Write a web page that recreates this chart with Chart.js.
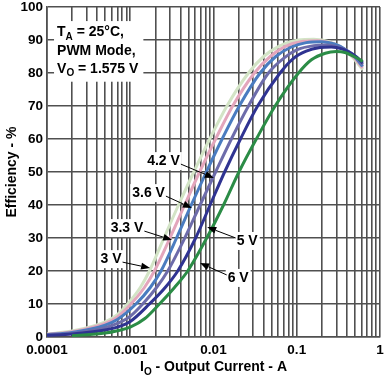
<!DOCTYPE html>
<html lang="en">
<head>
<meta charset="UTF-8">
<title>Efficiency vs Output Current</title>
<script src="https://cdn.jsdelivr.net/npm/chart.js"></script>
<style>
    body { margin: 0; background: #ffffff; }
    canvas { display: block; }
</style>
</head>
<body>
<canvas id="effChart" width="389" height="384"></canvas>
<script>
    // x tick labels (decades) and series
    const decades = [0.0001, 0.001, 0.01, 0.1, 1];
    const decadeLabels = ['0.0001', '0.001', '0.01', '0.1', '1'];
    const seriesNames = ['3 V', '3.3 V', '3.6 V', '4.2 V', '5 V', '6 V'];

    const cur3V = [0.0001, 0.0002, 0.0005, 0.0007, 0.00093, 0.00132, 0.0017, 0.00254, 0.0038, 0.0058, 0.009, 0.0145, 0.0263, 0.04, 0.06, 0.105, 0.16, 0.25, 0.35, 0.48, 0.62];
    const eff3V = [0.9, 1.8, 4.6, 6.8, 10, 15, 20, 30, 40, 50, 60, 70, 80, 85, 88, 90, 90.2, 89.4, 87.5, 84.5, 81];

    const cur33V = [0.0001, 0.0002, 0.0005, 0.0007, 0.00102, 0.00148, 0.00195, 0.003, 0.0045, 0.0068, 0.0106, 0.017, 0.031, 0.048, 0.072, 0.12, 0.18, 0.27, 0.37, 0.49, 0.62];
    const eff33V = [0.8, 1.6, 4.1, 6.1, 10, 15, 20, 30, 40, 50, 60, 70, 80, 85, 88, 89.6, 89.8, 89, 87.3, 84.6, 81.5];

    const cur36V = [0.0001, 0.0002, 0.0005, 0.0007, 0.00117, 0.00174, 0.00234, 0.0036, 0.0054, 0.0082, 0.0127, 0.0204, 0.0363, 0.056, 0.085, 0.13, 0.2, 0.29, 0.38, 0.5, 0.62];
    const eff36V = [0.7, 1.4, 3.6, 5.3, 10, 15, 20, 30, 40, 50, 60, 70, 80, 85, 87.8, 89.2, 89.5, 88.7, 87.2, 84.8, 82];

    const cur42V = [0.0001, 0.0002, 0.0005, 0.0007, 0.001, 0.00141, 0.00207, 0.00282, 0.00452, 0.0069, 0.0106, 0.0164, 0.0263, 0.0457, 0.07, 0.1, 0.16, 0.23, 0.32, 0.42, 0.52, 0.62];
    const eff42V = [0.6, 1.1, 2.8, 4.1, 6.3, 10, 15, 20, 30, 40, 50, 60, 70, 80, 84.5, 87, 88.3, 88.5, 87.8, 86.5, 84.8, 82.5];

    const cur5V = [0.0001, 0.0002, 0.0005, 0.0007, 0.001, 0.0017, 0.00263, 0.00372, 0.0061, 0.0091, 0.0136, 0.0211, 0.0339, 0.063, 0.09, 0.13, 0.19, 0.26, 0.35, 0.45, 0.54, 0.62];
    const eff5V = [0.5, 0.9, 2.1, 3.0, 4.7, 10, 15, 20, 30, 40, 50, 60, 70, 80, 84.3, 86.6, 87.7, 87.9, 87.3, 86, 84.6, 83];

    const cur6V = [0.0002, 0.0005, 0.0007, 0.001, 0.0015, 0.00224, 0.0034, 0.0049, 0.0083, 0.0132, 0.0202, 0.0327, 0.055, 0.105, 0.15, 0.22, 0.3, 0.38, 0.47, 0.55, 0.62];
    const eff6V = [0.4, 1.2, 1.9, 3.0, 5.6, 10, 15, 20, 30, 40, 50, 60, 70, 80, 84, 86, 86.5, 86.2, 85.2, 84.3, 83.5];

    const allCur = [cur3V, cur33V, cur36V, cur42V, cur5V, cur6V];
    const allEff = [eff3V, eff33V, eff36V, eff42V, eff5V, eff6V];
    const colors = ['#d3e4c6', '#e3a6bc', '#4a7cc0', '#6d6caa', '#2f3391', '#2b8c46'];

    // curve labels: label centre and arrow tip, in data units
    const callouts = [
        { text: '4.2 V', x: 0.00251, y: 53.3, tx: 0.0101, ty: 48.2 },
        { text: '3.6 V', x: 0.00166, y: 43.6, tx: 0.0055, ty: 39.1 },
        { text: '3.3 V', x: 0.000915, y: 33.0, tx: 0.00318, ty: 29.4 },
        { text: '3 V', x: 0.000588, y: 23.6, tx: 0.00173, ty: 20.9 },
        { text: '5 V', x: 0.0254, y: 29.1, tx: 0.0084, ty: 33.3 },
        { text: '6 V', x: 0.0198, y: 17.9, tx: 0.0069, ty: 22.4 }
    ];

    const FONT = 'bold 14px "Liberation Sans", Arial, sans-serif';
    const SUB = 'bold 10px "Liberation Sans", Arial, sans-serif';
    const GRID = '#505050';

    // text with optional subscript parts
    function richWidth(ctx, parts) {
        let w = 0;
        parts.forEach(p => { ctx.font = p.sub ? SUB : FONT; w += ctx.measureText(p.t).width; });
        return w;
    }
    function drawRich(ctx, parts, x, y) {
        ctx.textAlign = 'left';
        ctx.textBaseline = 'middle';
        parts.forEach(p => {
            ctx.font = p.sub ? SUB : FONT;
            ctx.fillText(p.t, x, p.sub ? y + 5 : y);
            x += ctx.measureText(p.t).width;
        });
    }

    function arrow(ctx, x0, y0, x1, y1) {
        const a = Math.atan2(y1 - y0, x1 - x0);
        const len = 9, half = 3.5;
        const bx = x1 - len * Math.cos(a), by = y1 - len * Math.sin(a);
        ctx.beginPath();
        ctx.moveTo(x0, y0);
        ctx.lineTo(bx, by);
        ctx.lineWidth = 1;
        ctx.strokeStyle = '#000';
        ctx.stroke();
        ctx.beginPath();
        ctx.moveTo(x1, y1);
        ctx.lineTo(bx + half * Math.sin(a), by - half * Math.cos(a));
        ctx.lineTo(bx - half * Math.sin(a), by + half * Math.cos(a));
        ctx.closePath();
        ctx.fillStyle = '#000';
        ctx.fill();
    }

    const overlay = {
        id: 'overlay',
        afterDraw(chart) {
            const ctx = chart.ctx;
            const xs = chart.scales.x, ys = chart.scales.y;
            ctx.save();

            // condition box
            const lines = [
                [{ t: 'T' }, { t: 'A', sub: true }, { t: ' = 25°C,' }],
                [{ t: 'PWM Mode,' }],
                [{ t: 'V' }, { t: 'O', sub: true }, { t: ' = 1.575 V' }]
            ];
            const bx = xs.getPixelForValue(0.000132);
            const lineY = [92.4, 86.5, 81.3].map(v => ys.getPixelForValue(v));
            let maxW = 0;
            lines.forEach(l => { maxW = Math.max(maxW, richWidth(ctx, l)); });
            ctx.fillStyle = '#fff';
            ctx.fillRect(bx - 3, lineY[0] - 11, maxW + 8, lineY[2] - lineY[0] + 24);
            ctx.fillStyle = '#000';
            lines.forEach((l, i) => drawRich(ctx, l, bx, lineY[i]));

            // curve callouts
            callouts.forEach(c => {
                ctx.font = FONT;
                const w = ctx.measureText(c.text).width;
                const cx = xs.getPixelForValue(c.x), cy = ys.getPixelForValue(c.y);
                const tx = xs.getPixelForValue(c.tx), ty = ys.getPixelForValue(c.ty);
                ctx.fillStyle = '#fff';
                ctx.fillRect(cx - w / 2 - 2, cy - 9, w + 4, 18);
                ctx.fillStyle = '#000';
                ctx.textAlign = 'center';
                ctx.textBaseline = 'middle';
                ctx.fillText(c.text, cx, cy);
                const sx = tx > cx ? cx + w / 2 + 1 : cx - w / 2 - 1;
                const sy = cy + (ty > cy ? 3 : -3);
                arrow(ctx, sx, sy, tx, ty);
            });

            // axis titles
            const xt = [{ t: 'I' }, { t: 'O', sub: true }, { t: ' - Output Current - A' }];
            const xw = richWidth(ctx, xt);
            ctx.fillStyle = '#000';
            drawRich(ctx, xt, (xs.left + xs.right) / 2 - xw / 2, 367);

            ctx.translate(12, (ys.top + ys.bottom) / 2);
            ctx.rotate(-Math.PI / 2);
            ctx.font = FONT;
            ctx.textAlign = 'center';
            ctx.textBaseline = 'middle';
            ctx.fillText('Efficiency - %', 0, 0);
            ctx.restore();
        }
    };

    const datasets = seriesNames.map((name, i) => ({
        label: name,
        data: allCur[i].map((c, j) => ({ x: c, y: allEff[i][j] })),
        borderColor: colors[i],
        borderWidth: 3,
        pointRadius: 0,
        showLine: true,
        fill: false,
        cubicInterpolationMode: 'monotone',
        order: seriesNames.length - i
    }));

    const tickFont = { family: '"Liberation Sans", Arial, sans-serif', size: 13.5, weight: 'bold' };

    const ctx = document.getElementById('effChart').getContext('2d');
    new Chart(ctx, {
        type: 'scatter',
        data: { datasets: datasets },
        options: {
            responsive: false,
            animation: false,
            layout: { padding: { top: 7, right: 9, left: 0, bottom: 0 } },
            plugins: { legend: { display: false }, tooltip: { enabled: false } },
            scales: {
                x: {
                    type: 'logarithmic',
                    min: 0.0001,
                    max: 1,
                    afterBuildTicks: scale => {
                        const t = [];
                        decades.slice(0, -1).forEach(d => {
                            for (let k = 1; k < 10; k++) t.push({ value: d * k });
                        });
                        t.push({ value: 1 });
                        scale.ticks = t;
                    },
                    afterFit: scale => {
                        scale.height = 47;
                        scale.paddingLeft = 0;
                        scale.paddingRight = 0;
                    },
                    ticks: {
                        autoSkip: false,
                        maxRotation: 0,
                        padding: 5,
                        color: '#000',
                        font: tickFont,
                        callback: v => {
                            const i = decades.findIndex(d => Math.abs(d - v) / d < 1e-6);
                            return i >= 0 ? decadeLabels[i] : '';
                        }
                    },
                    grid: { color: GRID, lineWidth: 1.6, drawTicks: false },
                    border: { color: GRID, width: 1.6 }
                },
                y: {
                    min: 0,
                    max: 100,
                    afterFit: scale => {
                        scale.width = 47;
                        scale.paddingTop = 0;
                        scale.paddingBottom = 0;
                    },
                    ticks: {
                        stepSize: 10,
                        padding: 4,
                        color: '#000',
                        font: tickFont
                    },
                    grid: { color: GRID, lineWidth: 1.6, drawTicks: false },
                    border: { color: GRID, width: 1.6 }
                }
            }
        },
        plugins: [overlay]
    });
</script>
</body>
</html>
